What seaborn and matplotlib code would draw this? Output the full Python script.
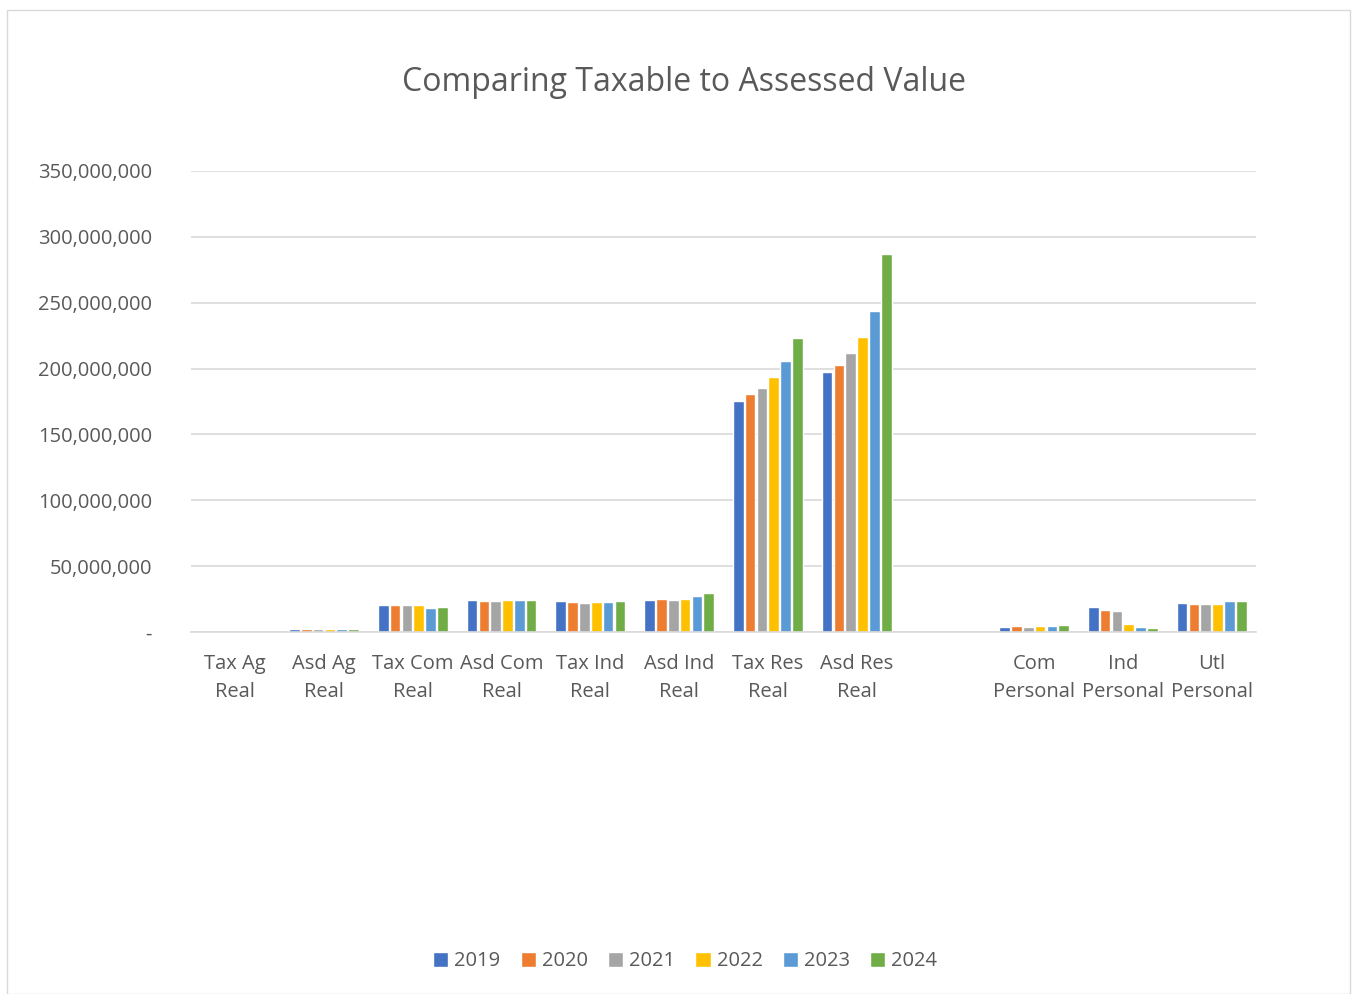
import numpy as np
import pandas as pd
import seaborn as sns
import matplotlib.pyplot as plt
from matplotlib.patches import Rectangle
from matplotlib.ticker import FuncFormatter

# values in millions
categories = ["Tax Ag\nReal", "Asd Ag\nReal", "Tax Com\nReal", "Asd Com\nReal",
              "Tax Ind\nReal", "Asd Ind\nReal", "Tax Res\nReal", "Asd Res\nReal",
              " ", "Com\nPersonal", "Ind\nPersonal", "Utl\nPersonal"]
years = ["2019", "2020", "2021", "2022", "2023", "2024"]

v2019 = [0.3, 2.0, 20.7, 24.0, 23.5, 24.3, 175.6, 197.4, None, 3.8, 19.2, 22.0]
v2020 = [0.3, 2.0, 20.5, 23.5, 22.5, 24.8, 180.5, 202.5, None, 4.5, 16.7, 21.3]
v2021 = [0.3, 2.0, 20.7, 23.8, 22.3, 24.5, 185.0, 211.8, None, 3.5, 15.7, 21.0]
v2022 = [0.3, 2.0, 20.7, 24.3, 22.8, 24.8, 193.4, 224.0, None, 4.5, 5.8, 21.3]
v2023 = [0.3, 2.0, 18.2, 24.0, 22.8, 27.3, 205.5, 243.7, None, 4.3, 3.8, 23.5]
v2024 = [0.3, 2.0, 19.0, 24.3, 23.8, 29.4, 223.2, 287.0, None, 5.1, 3.0, 23.5]

colors = ["#4472C4", "#ED7D31", "#A5A5A5", "#FFC000", "#5B9BD5", "#70AD47"]

rows = []
for yr, vals in zip(years, [v2019, v2020, v2021, v2022, v2023, v2024]):
    for c, v in zip(categories, vals):
        if v is not None:
            rows.append({"cat": c, "year": yr, "value": v * 1e6})
df = pd.DataFrame(rows)

sns.set_style("white")
plt.rcParams["font.family"] = ["Open Sans", "DejaVu Sans"]
txt = "#595959"

fig = plt.figure(figsize=(13.57, 9.94), dpi=100)
fig.patches.append(Rectangle((0.005, 0.0), 0.99, 0.99, transform=fig.transFigure,
                             fill=False, edgecolor="#D9D9D9", linewidth=1))
ax = fig.add_axes([0.1407, 0.3642, 0.7849, 0.4638])

sns.barplot(data=df, x="cat", y="value", hue="year", order=categories,
            hue_order=years, palette=colors, width=0.8, gap=0.1,
            saturation=1, ax=ax, legend=True)

ax.set_ylim(0, 350e6)
ax.set_yticks(np.arange(0, 351e6, 50e6))
ax.yaxis.set_major_formatter(FuncFormatter(lambda v, p: "-" if v == 0 else f"{v:,.0f}"))
ax.set_xlim(-0.5, len(categories) - 0.5)
ax.grid(axis="y", color="#D9D9D9", linewidth=1.2)
ax.set_axisbelow(True)
for s in ["top", "right", "left"]:
    ax.spines[s].set_visible(False)
ax.spines["bottom"].set_color("#D9D9D9")
ax.spines["bottom"].set_linewidth(1.2)
ax.tick_params(axis="both", length=0, labelsize=14.5, colors=txt)
ax.tick_params(axis="y", pad=28)
ax.tick_params(axis="x", pad=16)
for lbl in ax.get_xticklabels():
    lbl.set_linespacing(1.5)
ax.set_xlabel("")
ax.set_ylabel("")

fig.suptitle("Comparing Taxable to Assessed Value", x=0.504, y=0.934, fontsize=23, color=txt)

handles, labels = ax.get_legend_handles_labels()
ax.legend_.remove()
fig.legend(handles, labels, loc="center", bbox_to_anchor=(0.505, 0.033), ncol=6,
           frameon=False, fontsize=14.5, labelcolor=txt, handlelength=0.75,
           handleheight=0.75, handletextpad=0.3, columnspacing=1.0)

fig.savefig("out.png", dpi=100)
